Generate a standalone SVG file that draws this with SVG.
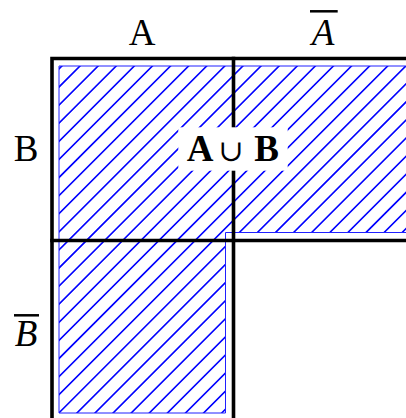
<svg xmlns="http://www.w3.org/2000/svg" width="406" height="418" viewBox="0 0 406 418">
<style>
.lbl{font-family:"Liberation Serif","DejaVu Serif",serif;font-size:37px;fill:#000}
.it{font-style:italic}
.bold{font-weight:bold}
.grid{stroke:#000;stroke-width:3.6;fill:none;stroke-linecap:butt}
.bar{stroke:#000;stroke-width:2.5}
.hatch{stroke:#0000ff;stroke-width:1.6;fill:none}
</style>
<defs>
<clipPath id="lshape">
<path d="M59,66 H410 V232.5 H225.5 V413 H59 Z"/>
</clipPath>
</defs>
<g id="union-region">
<path class="hatch" clip-path="url(#lshape)" d="M77.9,50 L-292.1,420 M96,50 L-274,420 M114.1,50 L-255.9,420 M132.2,50 L-237.8,420 M150.3,50 L-219.7,420 M168.4,50 L-201.6,420 M186.5,50 L-183.5,420 M204.6,50 L-165.4,420 M222.7,50 L-147.3,420 M240.8,50 L-129.2,420 M258.9,50 L-111.1,420 M277,50 L-93,420 M295.1,50 L-74.9,420 M313.2,50 L-56.8,420 M331.3,50 L-38.7,420 M349.4,50 L-20.6,420 M367.5,50 L-2.5,420 M385.6,50 L15.6,420 M403.7,50 L33.7,420 M421.8,50 L51.8,420 M439.9,50 L69.9,420 M458,50 L88,420 M476.1,50 L106.1,420 M494.2,50 L124.2,420 M512.3,50 L142.3,420 M530.4,50 L160.4,420 M548.5,50 L178.5,420 M566.6,50 L196.6,420 M584.7,50 L214.7,420 M602.8,50 L232.8,420"/>
<path d="M59,66 H410 V232.5 H225.5 V413 H59 Z" fill="none" stroke="#2020ff" stroke-width="1"/>
</g>
<g id="connectors">
<path class="grid" d="M52,420 V58.5 H410"/>
<line class="grid" x1="233.5" y1="56.7" x2="233.5" y2="420"/>
<line class="grid" x1="50.2" y1="240.5" x2="410" y2="240.5"/>
</g>
<g id="label-A">
<text class="lbl" x="142" y="45" text-anchor="middle">A</text>
</g>
<g id="label-notA">
<text class="lbl it" x="323" y="45" text-anchor="middle">A</text>
<line class="bar" x1="310" y1="11.3" x2="337.7" y2="11.3"/>
</g>
<g id="label-B">
<text class="lbl" x="26" y="161" text-anchor="middle">B</text>
</g>
<g id="label-notB">
<text class="lbl it" x="26" y="346" text-anchor="middle">B</text>
<line class="bar" x1="14" y1="315.3" x2="39" y2="315.3"/>
</g>
<g id="label-union">
<rect x="178.3" y="127.3" width="109.4" height="43.4" fill="#fff"/>
<text class="lbl bold" x="200" y="160.7" text-anchor="middle">A</text>
<text x="231" y="161" text-anchor="middle" style="font-family:'DejaVu Serif',serif;font-size:30px">∪</text>
<text class="lbl bold" x="266.5" y="160.7" text-anchor="middle">B</text>
</g>
</svg>
